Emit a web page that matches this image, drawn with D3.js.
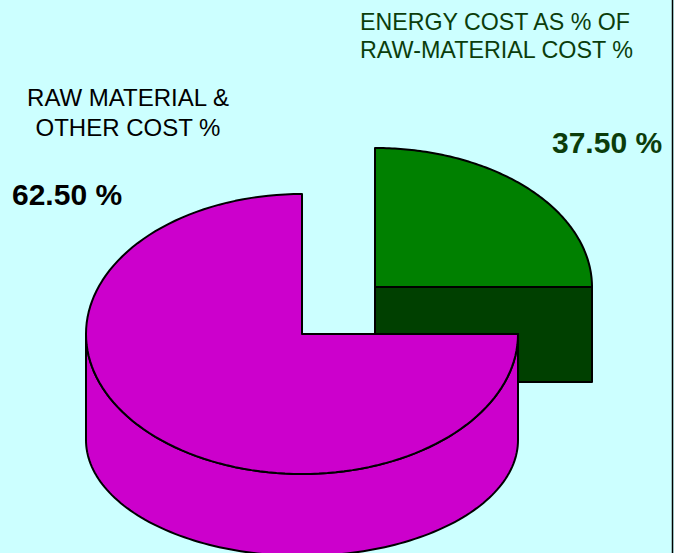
<!DOCTYPE html>
<html>
<head>
<meta charset="utf-8">
<script src="https://cdn.jsdelivr.net/npm/d3@7"></script>
<style>
  html, body { margin: 0; padding: 0; background: #ccffff; }
  svg { display: block; }
  text { font-family: "Liberation Sans", Arial, Helvetica, sans-serif; }
</style>
</head>
<body>
<svg id="chart" width="674" height="553"></svg>
<script>
// ---- data ----
const categories = ["ENERGY COST AS % OF RAW-MATERIAL COST %", "RAW MATERIAL & OTHER COST %"];
const categoryLines = [["ENERGY COST AS % OF", "RAW-MATERIAL COST %"], ["RAW MATERIAL &", "OTHER COST %"]];
const values = [37.5, 62.5];               // printed percentages
const valueLabels = ["37.50 %", "62.50 %"];
const drawnShares = [25, 75];              // the original graphic draws a quarter / three-quarter pie
const sliceColors = ["#008000", "#cc00cc"];
const sideColors = ["#004000", "#cc00cc"];
const labelColors = ["#0b3d0b", "#000000"];

const svg = d3.select("#chart");
const W = 674, H = 553;

svg.append("rect").attr("width", W).attr("height", H).attr("fill", "#ccffff");

const pie = d3.pie().sort(null).value(d => d);
const arcs = pie(drawnShares);

// geometry per slice: top ellipse centre/radii, bottom ellipse centre/radius
const geom = [
  { cx: 375, cy: 287, rx: 217, ry: 139, cyb: 382, ryb: 116 }, // exploded green slice
  { cx: 302, cy: 334, rx: 216, ry: 140, cyb: 440, ryb: 116 }  // magenta slice
];

const pt = (g, a, bottom) => [g.cx + g.rx * Math.sin(a), (bottom ? g.cyb : g.cy) - (bottom ? g.ryb : g.ry) * Math.cos(a)];
const arcPts = (g, a0, a1, bottom) => d3.range(0, 121).map(i => pt(g, a0 + (a1 - a0) * i / 120, bottom));
const line = d3.line();

function styled(sel) {
  return sel.attr("stroke", "#000").attr("stroke-width", 2).attr("stroke-linejoin", "round");
}

// --- green slice (index 0) ---
{
  const g = geom[0], a = arcs[0];
  const face = [[g.cx, g.cy], pt(g, a.endAngle, false), pt(g, a.endAngle, true), [g.cx, g.cyb]];
  styled(svg.append("path").attr("d", line(face) + "Z").attr("fill", sideColors[0]));
  const top = [[g.cx, g.cy]].concat(arcPts(g, a.startAngle, a.endAngle, false));
  styled(svg.append("path").attr("d", line(top) + "Z").attr("fill", sliceColors[0]));
}

// --- magenta slice (index 1) ---
{
  const g = geom[1], a = arcs[1];
  const wa0 = Math.max(a.startAngle, Math.PI / 2), wa1 = Math.min(a.endAngle, 3 * Math.PI / 2);
  const wall = arcPts(g, wa0, wa1, false).concat(arcPts(g, wa1, wa0, true));
  styled(svg.append("path").attr("d", line(wall) + "Z").attr("fill", sideColors[1]));
  const top = [[g.cx, g.cy]].concat(arcPts(g, a.startAngle, a.endAngle, false));
  styled(svg.append("path").attr("d", line(top) + "Z").attr("fill", sliceColors[1]));
}

// --- category labels ---
const catPos = [
  { x: 360, y: 30, dy: 28, anchor: "start", lens: [270, 273] },
  { x: 128, y: 106, dy: 30, anchor: "middle", lens: null }
];
categoryLines.forEach((lines, i) => {
  lines.forEach((t, j) => {
    const tx = svg.append("text")
      .attr("x", catPos[i].x).attr("y", catPos[i].y + j * catPos[i].dy)
      .attr("text-anchor", catPos[i].anchor)
      .attr("font-size", 24)
      .attr("fill", labelColors[i])
      .text(t);
    if (catPos[i].lens) tx.attr("textLength", catPos[i].lens[j]).attr("lengthAdjust", "spacingAndGlyphs");
  });
});

// --- value labels ---
const valPos = [{ x: 552, y: 153 }, { x: 12, y: 205 }];
valueLabels.forEach((t, i) => {
  svg.append("text")
    .attr("x", valPos[i].x).attr("y", valPos[i].y)
    .attr("font-size", 30).attr("font-weight", "bold")
    .attr("fill", labelColors[i])
    .text(t);
});

// right border line
svg.append("line").attr("x1", 672.5).attr("x2", 672.5).attr("y1", 0).attr("y2", H)
  .attr("stroke", "#000").attr("stroke-width", 1.5);
</script>
</body>
</html>
